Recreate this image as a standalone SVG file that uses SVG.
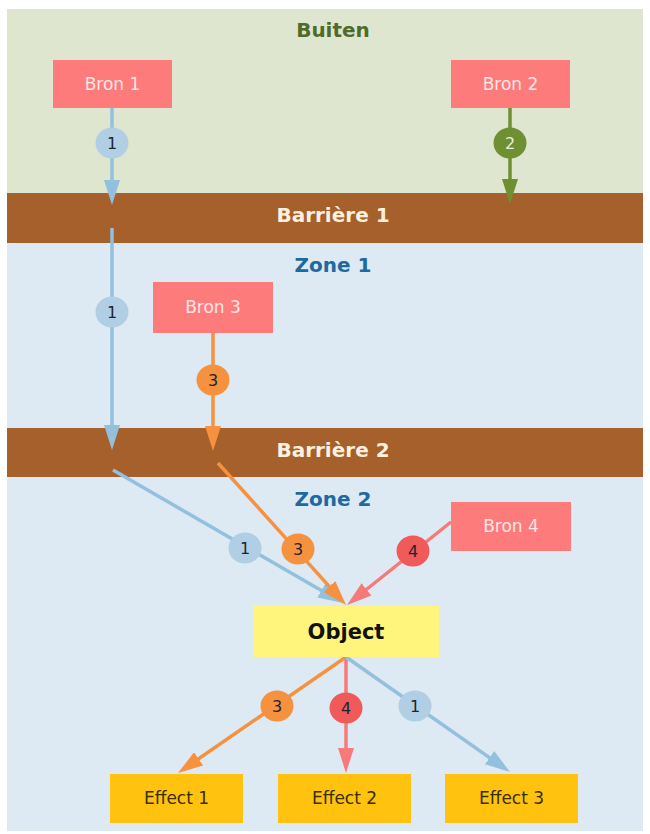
<svg xmlns="http://www.w3.org/2000/svg" width="650" height="834" viewBox="0 0 650 834">
  <style>
    .zoneOut { fill: #dfe6cf; }
    .zoneIn { fill: #dde9f3; }
    .barrier { fill: #a5602b; }
    .title { font-family: "DejaVu Sans", Verdana, sans-serif; font-weight: bold; font-size: 20px; text-anchor: middle; }
    .t-out { fill: #4f6b2a; }
    .t-zone { fill: #1c6aa0; }
    .t-bar { fill: #fdf0df; }
    .bron rect { fill: #fe7b7c; }
    .bron text { fill: #ffe6e6; font-family: "DejaVu Sans", Verdana, sans-serif; font-size: 17px; text-anchor: middle; }
    .object rect { fill: #fff57c; }
    .object text { fill: #111; font-family: "DejaVu Sans", Verdana, sans-serif; font-weight: bold; font-size: 21px; text-anchor: middle; }
    .effect rect { fill: #ffc20e; }
    .effect text { fill: #3a2d00; font-family: "DejaVu Sans", Verdana, sans-serif; font-size: 17px; text-anchor: middle; }
    .ln { stroke-width: 3.5; fill: none; }
    .c1 { stroke: #93c0dd; }
    .c2 { stroke: #6f8f33; }
    .c3 { stroke: #f6923f; }
    .c4 { stroke: #f77a7a; }
    .num { font-family: "DejaVu Sans", Verdana, sans-serif; font-size: 16px; text-anchor: middle; fill: #1d2430; }
    .num.light { fill: #e8efd8; }
  </style>
  <defs>
    <marker id="ah1" markerUnits="userSpaceOnUse" markerWidth="25" markerHeight="16" refX="13" refY="8" orient="auto"><path d="M0,0 L25,8 L0,16 z" fill="#93c0dd"/></marker>
    <marker id="ah2" markerUnits="userSpaceOnUse" markerWidth="25" markerHeight="16" refX="13" refY="8" orient="auto"><path d="M0,0 L25,8 L0,16 z" fill="#6f8f33"/></marker>
    <marker id="ah3" markerUnits="userSpaceOnUse" markerWidth="25" markerHeight="16" refX="13" refY="8" orient="auto"><path d="M0,0 L25,8 L0,16 z" fill="#f6923f"/></marker>
    <marker id="ah4" markerUnits="userSpaceOnUse" markerWidth="25" markerHeight="16" refX="13" refY="8" orient="auto"><path d="M0,0 L25,8 L0,16 z" fill="#f77a7a"/></marker>
  </defs>

  <!-- zones and barriers -->
  <g id="zones">
    <rect class="zoneOut" x="7" y="9" width="636" height="186"/>
    <rect class="zoneIn" x="7" y="243" width="636" height="588"/>
    <rect class="barrier" x="7" y="193" width="636" height="50"/>
    <rect class="barrier" x="7" y="428" width="636" height="49"/>
    <text class="title t-out" x="333" y="37">Buiten</text>
    <text class="title t-bar" x="333" y="222">Barrière 1</text>
    <text class="title t-zone" x="333" y="272">Zone 1</text>
    <text class="title t-bar" x="333" y="457">Barrière 2</text>
    <text class="title t-zone" x="333" y="506">Zone 2</text>
  </g>

  <!-- connectors -->
  <g id="connectors">
    <line class="ln c1" x1="112" y1="108" x2="112" y2="193" marker-end="url(#ah1)"/>
    <line class="ln c2" x1="510" y1="108" x2="510" y2="192" marker-end="url(#ah2)"/>
    <line class="ln c1" x1="112" y1="228" x2="112" y2="438" marker-end="url(#ah1)"/>
    <line class="ln c3" x1="213" y1="333" x2="213" y2="439" marker-end="url(#ah3)"/>
    <line class="ln c1" x1="113" y1="470" x2="332.6" y2="597" marker-end="url(#ah1)"/>
    <line class="ln c3" x1="218" y1="463" x2="338" y2="596.1" marker-end="url(#ah3)"/>
    <line class="ln c4" x1="451" y1="522" x2="356.4" y2="597.5" marker-end="url(#ah4)"/>
    <line class="ln c3" x1="346" y1="657" x2="187.9" y2="766.2" marker-end="url(#ah3)"/>
    <line class="ln c4" x1="346" y1="657" x2="346" y2="761" marker-end="url(#ah4)"/>
    <line class="ln c1" x1="346" y1="657" x2="500.2" y2="765.1" marker-end="url(#ah1)"/>

    <!-- route numbers -->
    <g><ellipse cx="112" cy="143" rx="16.5" ry="15.5" fill="#b0cfe5"/><text class="num" x="112" y="149">1</text></g>
    <g><ellipse cx="510" cy="143" rx="16.5" ry="15.5" fill="#6f8f33"/><text class="num light" x="510" y="149">2</text></g>
    <g><ellipse cx="112" cy="312" rx="16.5" ry="15.5" fill="#b0cfe5"/><text class="num" x="112" y="318">1</text></g>
    <g><ellipse cx="213" cy="380" rx="16.5" ry="15.5" fill="#f6923f"/><text class="num" x="213" y="386">3</text></g>
    <g><ellipse cx="245" cy="548" rx="16.5" ry="15.5" fill="#b0cfe5"/><text class="num" x="245" y="554">1</text></g>
    <g><ellipse cx="298" cy="549" rx="16.5" ry="15.5" fill="#f6923f"/><text class="num" x="298" y="555">3</text></g>
    <g><ellipse cx="413" cy="551" rx="16.5" ry="15.5" fill="#f05a5a"/><text class="num" x="413" y="557">4</text></g>
    <g><ellipse cx="277" cy="706" rx="16.5" ry="15.5" fill="#f6923f"/><text class="num" x="277" y="712">3</text></g>
    <g><ellipse cx="346" cy="708" rx="16.5" ry="15.5" fill="#f05a5a"/><text class="num" x="346" y="714">4</text></g>
    <g><ellipse cx="415" cy="706" rx="16.5" ry="15.5" fill="#b0cfe5"/><text class="num" x="415" y="712">1</text></g>
  </g>

  <!-- sources -->
  <g id="bron1" class="bron"><rect x="53" y="60" width="119" height="48"/><text x="112.5" y="90">Bron 1</text></g>
  <g id="bron2" class="bron"><rect x="451" y="60" width="119" height="48"/><text x="510.5" y="90">Bron 2</text></g>
  <g id="bron3" class="bron"><rect x="153" y="282" width="120" height="51"/><text x="213" y="313">Bron 3</text></g>
  <g id="bron4" class="bron"><rect x="451" y="502" width="120" height="49"/><text x="511" y="532">Bron 4</text></g>

  <!-- object -->
  <g id="object" class="object"><rect x="253" y="606" width="186" height="51"/><text x="346" y="639">Object</text></g>

  <!-- effects -->
  <g id="effect1" class="effect"><rect x="110" y="774" width="133" height="49"/><text x="176.5" y="804">Effect 1</text></g>
  <g id="effect2" class="effect"><rect x="278" y="774" width="133" height="49"/><text x="344.5" y="804">Effect 2</text></g>
  <g id="effect3" class="effect"><rect x="445" y="774" width="133" height="49"/><text x="511.5" y="804">Effect 3</text></g>
</svg>
